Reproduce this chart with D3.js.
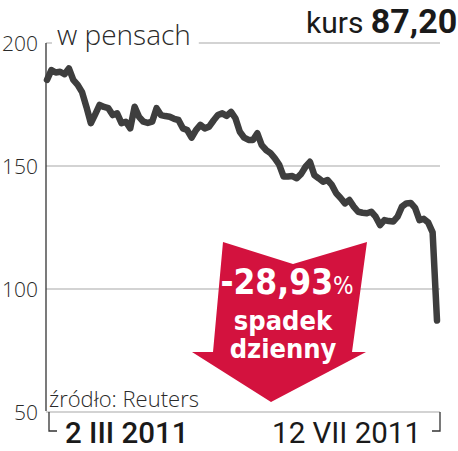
<!DOCTYPE html>
<html>
<head>
<meta charset="utf-8">
<script src="https://cdn.jsdelivr.net/npm/d3@7"></script>
<style>
  body { margin: 0; background: #fff; }
  svg { display: block; }
</style>
</head>
<body>
<div id="chart"></div>
<script>
// closing prices in pence, one per session, 2 III 2011 .. 12 VII 2011
const prices = [
    185, 189, 188, 188.3, 187.3, 189.7, 185, 183, 180, 174,
    167.4, 171, 174.8, 174, 173.5, 170.7, 171.4, 167.4, 168, 165.3,
    174.1, 170, 168, 167.5, 168, 173.5, 170.7, 170.3, 170, 169.2,
    168.7, 165.3, 164.6, 161.5, 164.6, 166.7, 165.3, 166, 168.5, 170.7,
    171.4, 170.4, 172, 169.4, 163.9, 161.5, 160.6, 160.6, 163.3, 158.5,
    156.5, 155.2, 153.1, 150.5, 145.7, 145.7, 145.9, 145, 146.8, 149.7,
    151.7, 146.3, 145, 143.6, 144.3, 142.3, 138.9, 137, 134.8, 136.2,
    133.5, 131.4, 131, 130.8, 131.4, 129.4, 126, 128, 127.6, 127.4,
    129.4, 133.5, 134.8, 135, 133, 128, 128.5, 127, 123, 87.2
];
const yTicks = [50, 100, 150, 200];
const xTickLabels = ['2 III 2011', '12 VII 2011'];
const lastPrice = '87,20';
const dailyDrop = '-28,93';

const width = 458;
const height = 451;

const svg = d3.select('#chart')
    .append('svg')
        .attr('width', width)
        .attr('height', height)
        .attr('viewBox', [0, 0, width, height]);

const x = d3.scaleLinear()
    .domain([0, prices.length - 1])
    .range([47, 437]);

const y = d3.scaleLinear()
    .domain([50, 200])
    .range([412, 43]);

const gridLeft = 46;
const gridRight = 440;

// gridlines
svg.append('g')
    .selectAll('line')
    .data(yTicks)
    .join('line')
        .attr('x1', gridLeft)
        .attr('x2', gridRight)
        .attr('y1', d => y(d))
        .attr('y2', d => y(d))
        .attr('stroke', '#a8a8a8')
        .attr('stroke-width', 1.2);

// y axis
const yAxis = svg.append('g')
    .attr('transform', `translate(${gridLeft},0)`)
    .call(d3.axisLeft(y).tickValues(yTicks).tickSize(0).tickPadding(8));

yAxis.select('.domain')
    .attr('d', `M0,${y(200)}V${y(50) - 1}`)
    .attr('stroke', '#333')
    .attr('stroke-width', 1.3);

yAxis.selectAll('text')
    .attr('font-family', '"Open Sans", sans-serif')
    .attr('font-weight', 300)
    .attr('font-size', 21)
    .attr('fill', '#2a2a2a')
    .attr('dy', '0.35em');

// bottom brackets
const bracketY = 431;
svg.append('path')
    .attr('d', `M${gridLeft + 3},${y(50)}V${bracketY}H${gridLeft + 11}`)
    .attr('fill', 'none')
    .attr('stroke', '#333')
    .attr('stroke-width', 1.3);

svg.append('path')
    .attr('d', `M${gridRight},${y(50)}V${bracketY}H${gridRight - 8}`)
    .attr('fill', 'none')
    .attr('stroke', '#333')
    .attr('stroke-width', 1.3);

// x labels
svg.append('text')
    .attr('x', x(0) + 18)
    .attr('y', 443)
    .attr('font-family', 'Roboto, sans-serif')
    .attr('font-weight', 500)
    .attr('font-size', 29.5)
    .attr('fill', '#1a1a1a')
    .text(xTickLabels[0]);

svg.append('text')
    .attr('x', x(prices.length - 1) - 16)
    .attr('y', 443)
    .attr('text-anchor', 'end')
    .attr('font-family', 'Roboto, sans-serif')
    .attr('font-weight', 400)
    .attr('font-size', 29.5)
    .attr('fill', '#1a1a1a')
    .text(xTickLabels[1]);

// title with knockout
const title = svg.append('g');
const titleText = title.append('text')
    .attr('x', 57)
    .attr('y', 45)
    .attr('font-family', '"Open Sans", sans-serif')
    .attr('font-weight', 300)
    .attr('font-size', 28)
    .attr('fill', '#2a2a2a')
    .text('w pensach');
const tb = titleText.node().getBBox();
title.insert('rect', 'text')
    .attr('x', tb.x - 5)
    .attr('y', tb.y)
    .attr('width', tb.width + 13)
    .attr('height', tb.height + 4)
    .attr('fill', '#fff');

// kurs
const kurs = svg.append('text')
    .attr('x', 306)
    .attr('y', 33)
    .attr('font-family', 'Roboto, sans-serif')
    .attr('fill', '#1a1a1a');
kurs.append('tspan')
    .attr('font-size', 30)
    .text('kurs ');
kurs.append('tspan')
    .attr('font-size', 34)
    .attr('font-weight', 700)
    .text(lastPrice);

// source
svg.append('text')
    .attr('x', 49)
    .attr('y', 407)
    .attr('font-family', '"Open Sans", sans-serif')
    .attr('font-weight', 300)
    .attr('font-size', 22)
    .attr('fill', '#2a2a2a')
    .text('źródło: Reuters');

// price line
const line = d3.line()
    .x((d, i) => x(i))
    .y(d => y(d))
    .curve(d3.curveLinear);

svg.append('path')
    .datum(prices)
    .attr('d', line)
    .attr('fill', 'none')
    .attr('stroke', '#3e3e3e')
    .attr('stroke-width', 6.5)
    .attr('stroke-linejoin', 'round')
    .attr('stroke-linecap', 'round');

// red arrow annotation
const arrowShape = [
    [223, 242], [293, 264], [367, 242], [352, 352], [366, 352],
    [271, 402], [192, 352], [213, 352]
];
svg.append('path')
    .attr('d', 'M' + arrowShape.map(p => p.join(',')).join('L') + 'Z')
    .attr('fill', '#d3123e');

const arrowFont = '"DejaVu Sans Condensed", "DejaVu Sans", sans-serif';
const dropText = svg.append('text')
    .attr('x', 287)
    .attr('y', 294)
    .attr('text-anchor', 'middle')
    .attr('font-family', arrowFont)
    .attr('font-stretch', 'condensed')
    .attr('font-weight', 700)
    .attr('fill', '#fff');
dropText.append('tspan')
    .attr('font-size', 35)
    .text(dailyDrop);
dropText.append('tspan')
    .attr('font-size', 24)
    .attr('font-weight', 400)
    .text('%');

svg.selectAll('.arrow-word')
    .data(['spadek', 'dzienny'])
    .join('text')
        .attr('class', 'arrow-word')
        .attr('x', 283)
        .attr('y', (d, i) => 330 + i * 28)
        .attr('text-anchor', 'middle')
        .attr('font-family', arrowFont)
        .attr('font-stretch', 'condensed')
        .attr('font-weight', 700)
        .attr('font-size', 27)
        .attr('fill', '#fff')
        .text(d => d);
</script>
</body>
</html>
